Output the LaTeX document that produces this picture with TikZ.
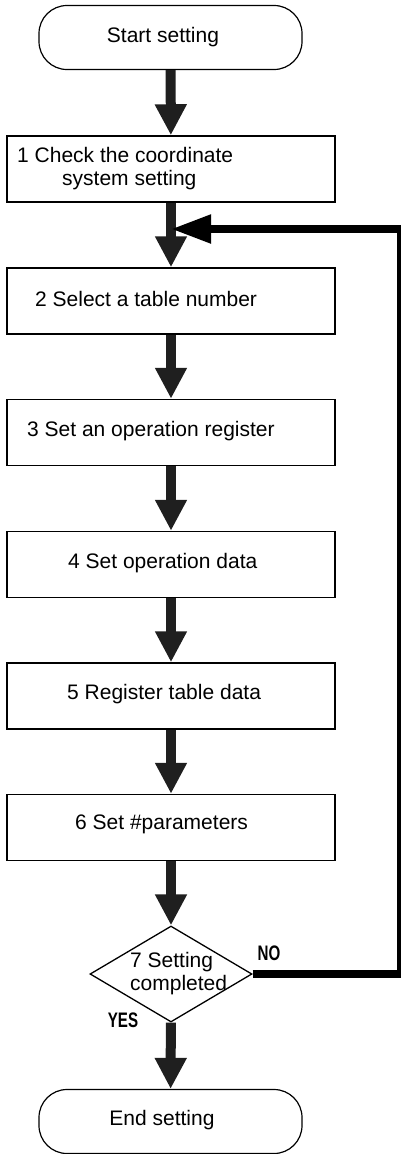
\documentclass[tikz,border=0pt]{standalone}
\usepackage{fontspec}
\setmainfont{Liberation Sans}
\usetikzlibrary{shapes.geometric,arrows.meta}
\tikzset{
  term/.style={draw, line width=1.2pt, rounded corners=28pt, minimum width=263pt, minimum height=64pt, inner sep=0pt},
  stepbox/.style={draw, line width=1.5pt, minimum width=328pt, minimum height=66pt, inner sep=0pt},
  decide/.style={draw, diamond, line width=1.3pt, minimum width=162pt, minimum height=96pt, inner sep=0pt},
  txt/.style={font=\fontsize{21}{23}\selectfont, inner sep=0pt, align=left},
  yn/.style={font=\fontsize{21}{22}\selectfont\bfseries, inner sep=0pt, xscale=0.72},
  flow/.style={line width=10pt, draw=black!88, -{Triangle[width=30pt,length=31pt]}},
  fb/.style={line width=8pt, draw=black, -{Triangle[width=27pt,length=40pt]}}
}
\begin{document}
\begin{tikzpicture}[x=1pt,y=-1pt]
\useasboundingbox (0,0) rectangle (400,1154);
\node[term] (s) at (170.5,37.5) {};
\node[txt] (ts) at (163,37.5) {Start setting};
\node[stepbox] (b1) at (171,169) {};
\node[txt,anchor=west] (t1) at (17,169) {1 Check the coordinate\\\hspace*{45pt}system setting};
\node[stepbox] (b2) at (171,301) {};
\node[txt,anchor=west] (t2) at (35,299) {2 Select a table number};
\node[stepbox] (b3) at (171,432.5) {};
\node[txt,anchor=west] (t3) at (27,431) {3 Set an operation register};
\node[stepbox] (b4) at (171,564.5) {};
\node[txt,anchor=west] (t4) at (68,563) {4 Set operation data};
\node[stepbox] (b5) at (171,696) {};
\node[txt,anchor=west] (t5) at (67,694) {5 Register table data};
\node[stepbox] (b6) at (171,827.5) {};
\node[txt,anchor=west] (t6) at (75,824) {6 Set \#parameters};
\node[decide] (d) at (171,974) {};
\node[txt,anchor=west] (t7) at (130,974) {7 Setting\\completed};
\node[term] (e) at (170.5,1121.5) {};
\node[txt] (te) at (162,1120) {End setting};
\node[yn] (no) at (269,953) {NO};
\node[yn] (yes) at (123,1020) {YES};
\coordinate (fin) at (171,229);
\coordinate (fcorner) at (401,974);
\draw[flow] (s) -- (b1);
\draw[flow] (b1) -- (b2);
\draw[flow] (b2) -- (b3);
\draw[flow] (b3) -- (b4);
\draw[flow] (b4) -- (b5);
\draw[flow] (b5) -- (b6);
\draw[flow] (b6) -- (d);
\draw[flow] (d) -- (e);
\draw[fb] (d.east) -- (fcorner) |- (fin);
\end{tikzpicture}
\end{document}
